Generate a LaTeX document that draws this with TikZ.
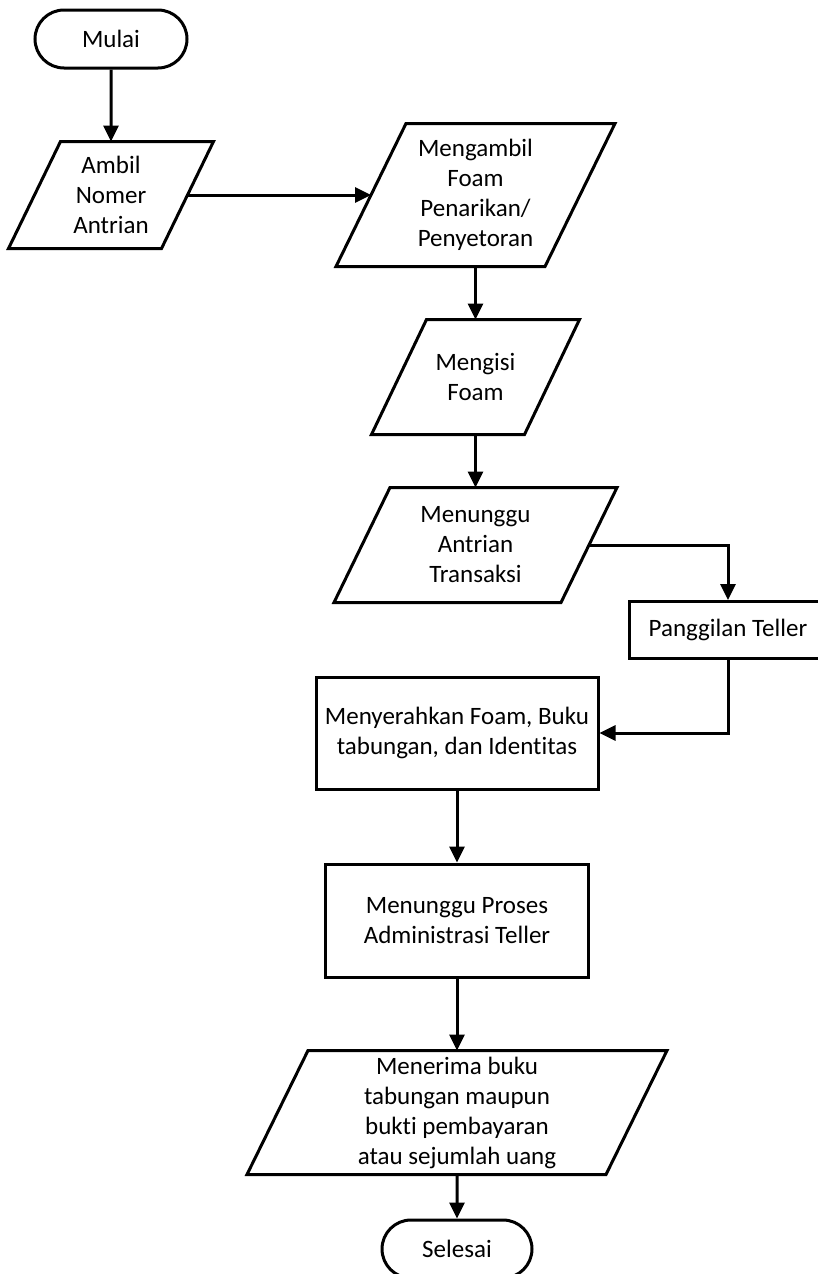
\documentclass[tikz,border=0pt]{standalone}
\usepackage{fontspec}
\setmainfont{Carlito}[Ligatures=CommonOff]
\usetikzlibrary{shapes.misc,arrows.meta}

\tikzset{
	terminal/.style={draw, rounded rectangle, minimum height=58pt, inner sep=0pt},
	datain/.style={align=center, inner sep=0pt},
	process/.style={draw, rectangle, align=center, inner sep=0pt},
	arr/.style={-{Triangle[length=16pt,width=15pt]}}
}
\newcommand{\slantbox}[2]{\draw ([xshift=#2]#1.north west) -- (#1.north east) -- ([xshift=-#2]#1.south east) -- (#1.south west) -- cycle;}

\begin{document}
\begin{tikzpicture}[x=1pt, y=-1pt, line width=3pt, font=\fontsize{25}{30}\selectfont]
		\useasboundingbox (0,0) rectangle (818,1274);
		\node[terminal, minimum width=152pt] (mulai) at (111,39) {Mulai};
		\node[datain, minimum width=202pt, minimum height=104pt] (ambil) at (111,195) {Ambil\\Nomer\\Antrian};
		\node[datain, minimum width=276pt, minimum height=140pt] (mengambil) at (475.5,195) {Mengambil\\Foam\\Penarikan/\\Penyetoran};
		\node[datain, minimum width=205pt, minimum height=112pt] (mengisi) at (475.5,377) {Mengisi\\Foam};
		\node[datain, minimum width=280pt, minimum height=112pt] (menunggu) at (475.5,545) {Menunggu\\Antrian\\Transaksi};
		\node[process, minimum width=198pt, minimum height=57pt] (panggilan) at (728,630) {Panggilan Teller};
		\node[process, minimum width=282pt, minimum height=112pt] (menyerahkan) at (457,733) {Menyerahkan Foam, Buku\\tabungan, dan Identitas};
		\node[process, minimum width=263pt, minimum height=113pt] (proses) at (457,920.5) {Menunggu Proses\\Administrasi Teller};
		\node[datain, minimum width=417pt, minimum height=121pt] (menerima) at (457,1112.5) {Menerima buku\\tabungan maupun\\bukti pembayaran\\atau sejumlah uang};
		\node[terminal, minimum width=150pt] (selesai) at (457,1249) {Selesai};
		\slantbox{ambil}{52pt}
		\slantbox{mengambil}{70pt}
		\slantbox{mengisi}{55pt}
		\slantbox{menunggu}{56pt}
		\slantbox{menerima}{61pt}
		\draw[arr] (mulai) -- (ambil.north);
		\draw[arr] ([xshift=-26pt]ambil.east) -- ([xshift=35pt]mengambil.west);
		\draw[arr] (mengambil.south) -- (mengisi.north);
		\draw[arr] (mengisi.south) -- (menunggu.north);
		\draw[arr] ([xshift=-28pt]menunggu.east) -| (panggilan.north);
		\draw[arr] (panggilan.south) |- (menyerahkan.east);
		\draw[arr] (menyerahkan) -- (proses);
		\draw[arr] (proses) -- (menerima.north);
		\draw[arr] (menerima.south) -- (selesai);
	\end{tikzpicture}
\end{document}
